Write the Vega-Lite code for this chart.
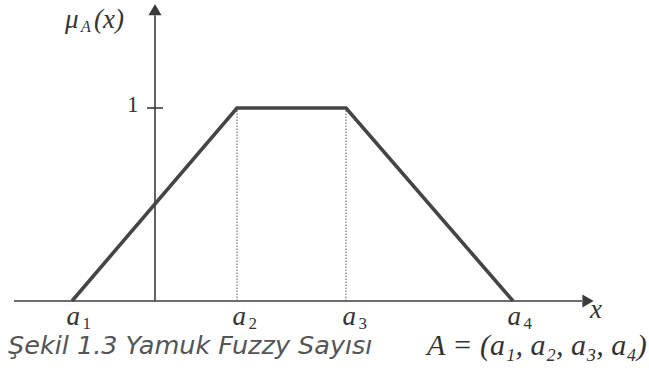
{
  "$schema": "https://vega.github.io/schema/vega-lite/v6.json",
  "autosize": {"type": "fit", "contains": "padding"},
  "width": 649,
  "height": 380,
  "padding": 0,
  "background": "white",
  "config": {"view": {"stroke": null}},
  "datasets": {
    "axes": [
      {"x": -1.41, "y": 0, "x2": 4.27, "y2": 0},
      {"x": 0, "y": 0, "x2": 0, "y2": 1.48},
      {"x": -0.08, "y": 1, "x2": 0.08, "y2": 1}
    ],
    "guides": [
      {"x": 0.82, "y": 0, "x2": 0.82, "y2": 1},
      {"x": 1.91, "y": 0, "x2": 1.91, "y2": 1}
    ],
    "membership": [
      {"order": 1, "x": -0.83, "y": 0},
      {"order": 2, "x": 0.82, "y": 1},
      {"order": 3, "x": 1.91, "y": 1},
      {"order": 4, "x": 3.58, "y": 0}
    ],
    "arrows": [
      {"x": 0, "y": 1.51, "dir": "up"},
      {"x": 4.33, "y": 0, "dir": "right"}
    ],
    "params": [
      {"x": -0.885, "y": -0.125, "main": "a", "sub": "1"},
      {"x": 0.775, "y": -0.125, "main": "a", "sub": "2"},
      {"x": 1.875, "y": -0.125, "main": "a", "sub": "3"},
      {"x": 3.525, "y": -0.125, "main": "a", "sub": "4"}
    ],
    "plainLabels": [
      {"x": 4.35, "y": -0.09, "text": "x"},
      {"x": -0.28, "y": 0.98, "text": "1"}
    ],
    "yLabel": [
      {"x": -0.9, "y": 1.415, "main": "μ", "sub": "A", "tail": "(x)"}
    ],
    "caption": [
      {"x": -1.47, "y": -0.275, "text": "Şekil 1.3 Yamuk Fuzzy Sayısı"}
    ],
    "formula": [
      {"x": 2.72, "y": -0.28, "text": "A = (a₁, a₂, a₃, a₄)"}
    ]
  },
  "layer": [
    {
      "data": {"name": "axes"},
      "mark": {"type": "rule", "color": "#3c3c3c", "strokeWidth": 1.6},
      "encoding": {
        "x": {"field": "x", "type": "quantitative", "scale": {"domain": [-1.55, 4.94], "nice": false, "zero": false}, "axis": null},
        "y": {"field": "y", "type": "quantitative", "scale": {"domain": [-0.4093, 1.5596], "nice": false, "zero": false}, "axis": null},
        "x2": {"field": "x2"},
        "y2": {"field": "y2"}
      }
    },
    {
      "data": {"name": "guides"},
      "mark": {"type": "rule", "color": "#555555", "strokeWidth": 1, "strokeDash": [1.5, 1.5]},
      "encoding": {
        "x": {"field": "x", "type": "quantitative", "axis": null},
        "y": {"field": "y", "type": "quantitative", "axis": null},
        "x2": {"field": "x2"},
        "y2": {"field": "y2"}
      }
    },
    {
      "data": {"name": "membership"},
      "mark": {"type": "line", "color": "#454545", "strokeWidth": 3.6, "strokeJoin": "miter"},
      "encoding": {
        "x": {"field": "x", "type": "quantitative", "axis": null},
        "y": {"field": "y", "type": "quantitative", "axis": null},
        "order": {"field": "order"}
      }
    },
    {
      "data": {"name": "arrows"},
      "transform": [{"filter": "datum.dir === 'up'"}],
      "mark": {"type": "point", "shape": "triangle-up", "filled": true, "color": "#3c3c3c", "opacity": 1, "size": 170},
      "encoding": {
        "x": {"field": "x", "type": "quantitative", "axis": null},
        "y": {"field": "y", "type": "quantitative", "axis": null}
      }
    },
    {
      "data": {"name": "arrows"},
      "transform": [{"filter": "datum.dir === 'right'"}],
      "mark": {"type": "point", "shape": "triangle-right", "filled": true, "color": "#3c3c3c", "opacity": 1, "size": 170},
      "encoding": {
        "x": {"field": "x", "type": "quantitative", "axis": null},
        "y": {"field": "y", "type": "quantitative", "axis": null}
      }
    },
    {
      "data": {"name": "params"},
      "mark": {"type": "text", "font": "Liberation Serif", "fontStyle": "italic", "fontSize": 27, "align": "left", "baseline": "alphabetic", "color": "#333333"},
      "encoding": {
        "x": {"field": "x", "type": "quantitative", "axis": null},
        "y": {"field": "y", "type": "quantitative", "axis": null},
        "text": {"field": "main"}
      }
    },
    {
      "data": {"name": "params"},
      "mark": {"type": "text", "font": "Liberation Serif", "fontSize": 17, "align": "left", "baseline": "alphabetic", "dx": 16, "dy": 4, "color": "#333333"},
      "encoding": {
        "x": {"field": "x", "type": "quantitative", "axis": null},
        "y": {"field": "y", "type": "quantitative", "axis": null},
        "text": {"field": "sub"}
      }
    },
    {
      "data": {"name": "plainLabels"},
      "transform": [{"filter": "datum.text === 'x'"}],
      "mark": {"type": "text", "font": "Liberation Serif", "fontStyle": "italic", "fontSize": 27, "align": "left", "baseline": "alphabetic", "color": "#333333"},
      "encoding": {
        "x": {"field": "x", "type": "quantitative", "axis": null},
        "y": {"field": "y", "type": "quantitative", "axis": null},
        "text": {"field": "text"}
      }
    },
    {
      "data": {"name": "plainLabels"},
      "transform": [{"filter": "datum.text === '1'"}],
      "mark": {"type": "text", "font": "Liberation Serif", "fontSize": 23, "align": "left", "baseline": "alphabetic", "color": "#333333"},
      "encoding": {
        "x": {"field": "x", "type": "quantitative", "axis": null},
        "y": {"field": "y", "type": "quantitative", "axis": null},
        "text": {"field": "text"}
      }
    },
    {
      "data": {"name": "yLabel"},
      "mark": {"type": "text", "font": "Liberation Serif", "fontStyle": "italic", "fontSize": 27, "align": "left", "baseline": "alphabetic", "color": "#333333"},
      "encoding": {
        "x": {"field": "x", "type": "quantitative", "axis": null},
        "y": {"field": "y", "type": "quantitative", "axis": null},
        "text": {"field": "main"}
      }
    },
    {
      "data": {"name": "yLabel"},
      "mark": {"type": "text", "font": "Liberation Serif", "fontStyle": "italic", "fontSize": 16, "align": "left", "baseline": "alphabetic", "dx": 16, "dy": 4, "color": "#333333"},
      "encoding": {
        "x": {"field": "x", "type": "quantitative", "axis": null},
        "y": {"field": "y", "type": "quantitative", "axis": null},
        "text": {"field": "sub"}
      }
    },
    {
      "data": {"name": "yLabel"},
      "mark": {"type": "text", "font": "Liberation Serif", "fontStyle": "italic", "fontSize": 27, "align": "left", "baseline": "alphabetic", "dx": 29, "color": "#333333"},
      "encoding": {
        "x": {"field": "x", "type": "quantitative", "axis": null},
        "y": {"field": "y", "type": "quantitative", "axis": null},
        "text": {"field": "tail"}
      }
    },
    {
      "data": {"name": "caption"},
      "mark": {"type": "text", "font": "DejaVu Sans", "fontStyle": "oblique", "fontSize": 25.5, "align": "left", "baseline": "alphabetic", "color": "#555555"},
      "encoding": {
        "x": {"field": "x", "type": "quantitative", "axis": null},
        "y": {"field": "y", "type": "quantitative", "axis": null},
        "text": {"field": "text"}
      }
    },
    {
      "data": {"name": "formula"},
      "mark": {"type": "text", "font": "Liberation Serif", "fontStyle": "italic", "fontSize": 30, "align": "left", "baseline": "alphabetic", "color": "#333333"},
      "encoding": {
        "x": {"field": "x", "type": "quantitative", "axis": null},
        "y": {"field": "y", "type": "quantitative", "axis": null},
        "text": {"field": "text"}
      }
    }
  ]
}
